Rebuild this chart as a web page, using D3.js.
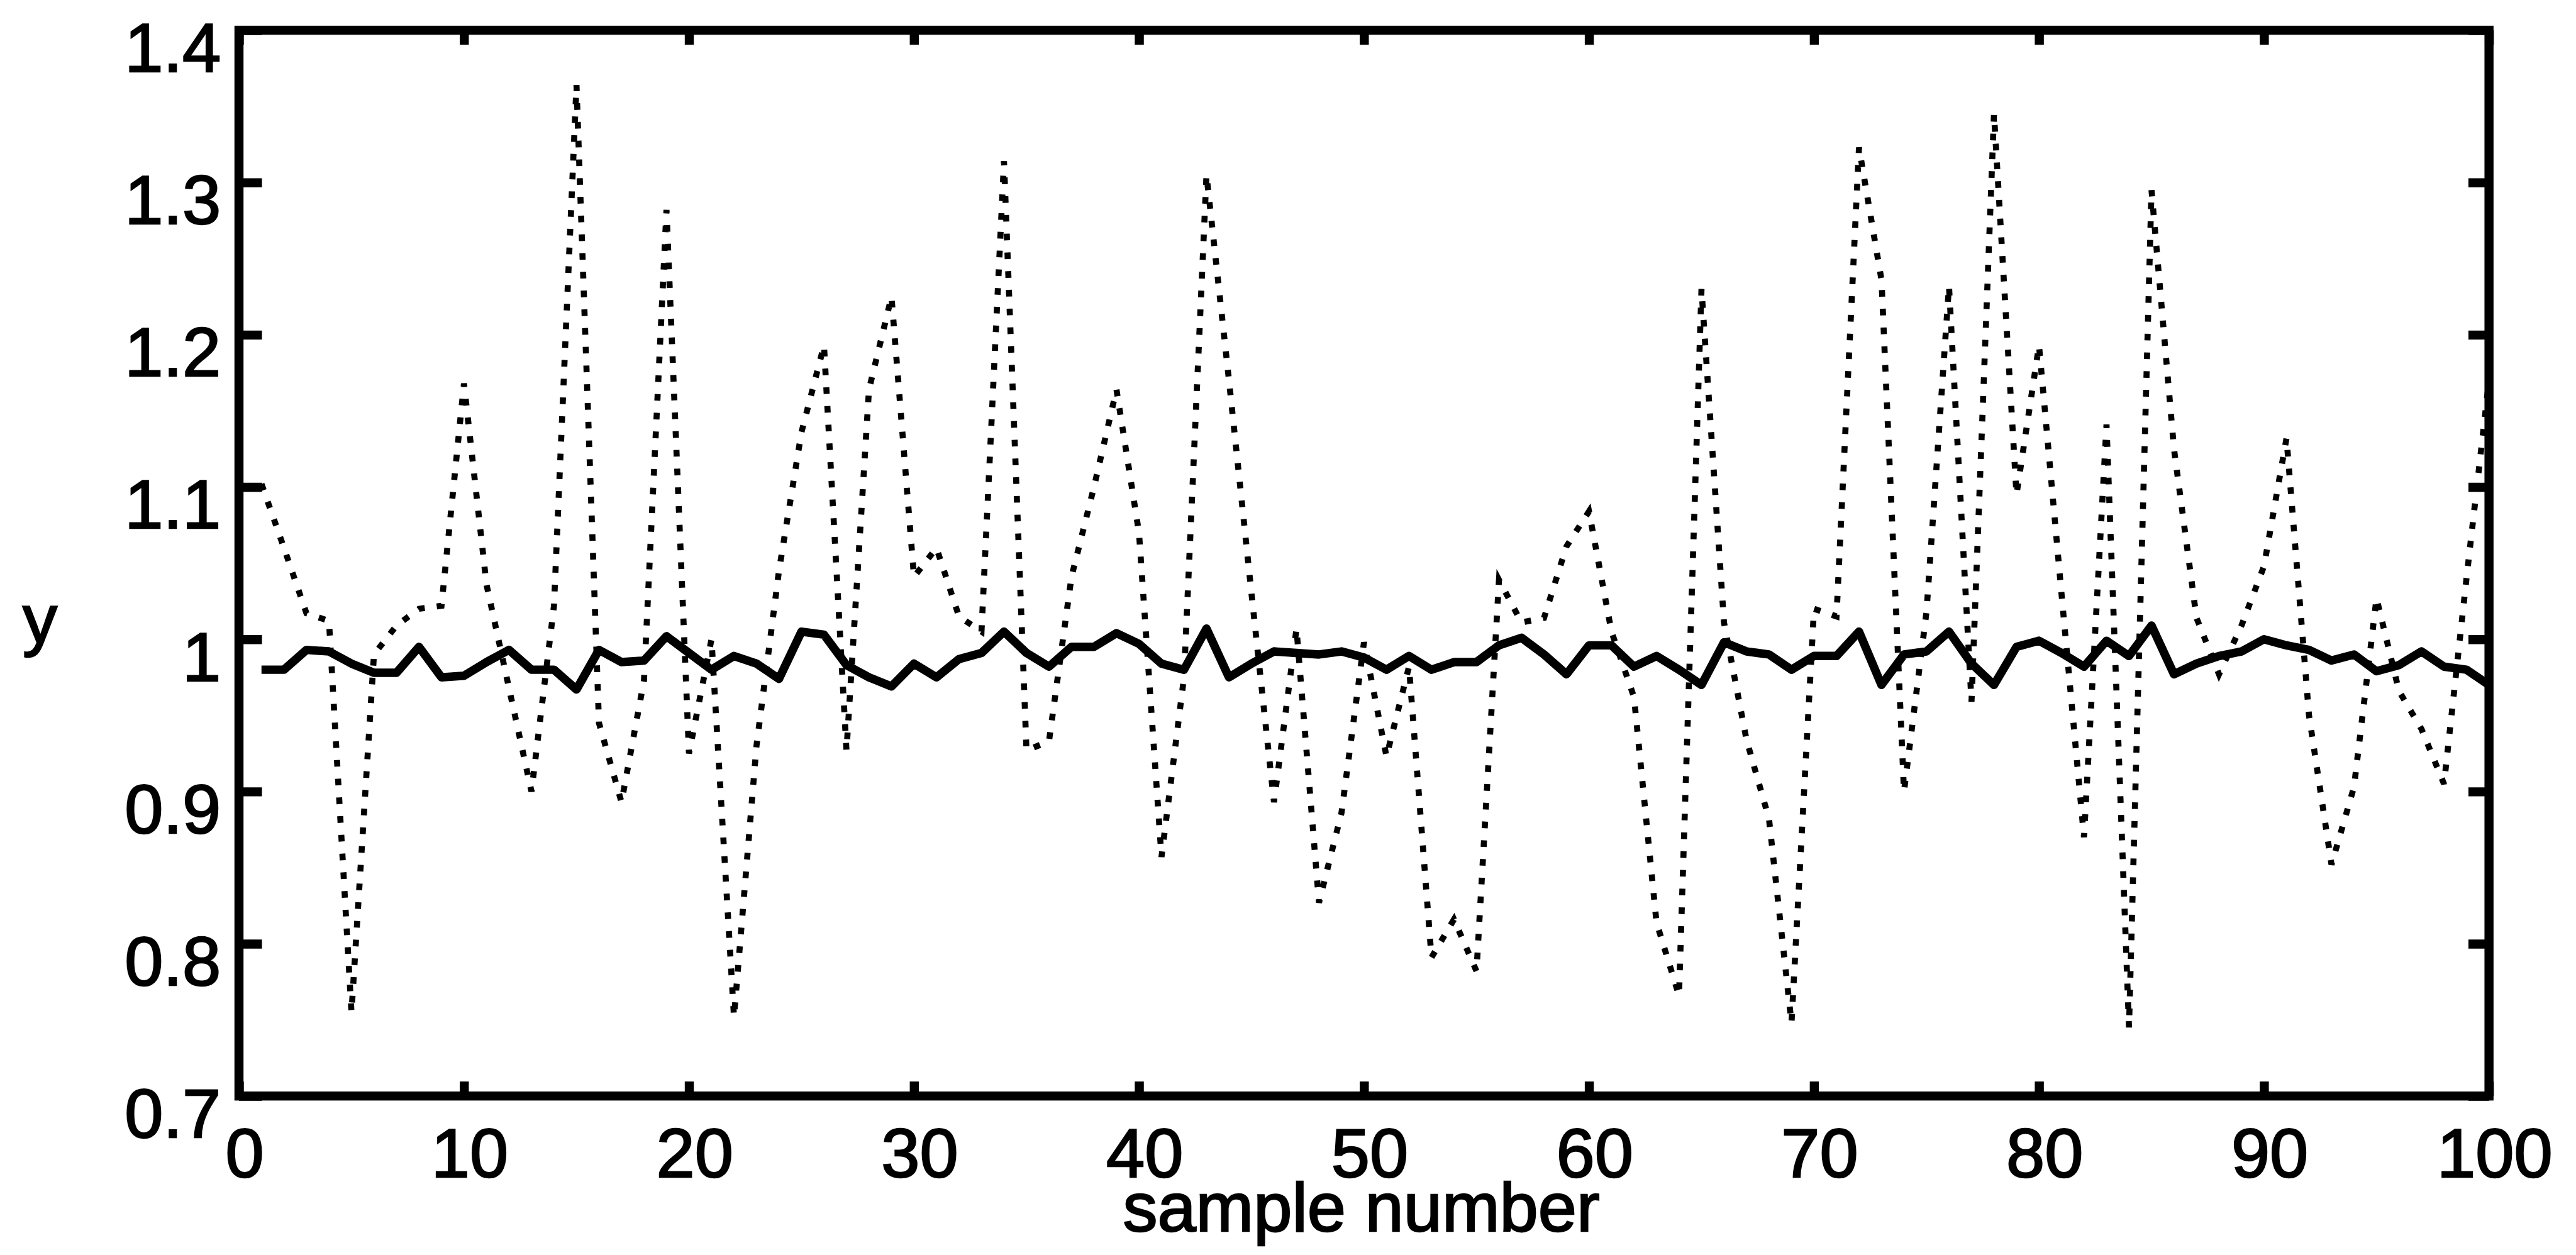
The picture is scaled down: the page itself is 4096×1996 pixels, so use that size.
<!DOCTYPE html>
<html>
<head>
<meta charset="utf-8">
<script src="https://cdn.jsdelivr.net/npm/d3@7"></script>
<style>
body{margin:0;background:#fff}
text{font-family:"Liberation Sans",Arial,Helvetica,sans-serif;fill:#000;stroke:#000;stroke-width:2.5px}
</style>
</head>
<body>
<svg id="chart" width="4096" height="1996"></svg>
<script>
var W = 4096, H = 1996, S = 0.962

// tick values
var xTicks = [0,10,20,30,40,50,60,70,80,90,100]
var yTicks = [0.7,0.8,0.9,1,1.1,1.2,1.3,1.4]

// samples 1..100
var samples = d3.range(1,101)

// noisy measurement (dotted)
var noisy = [1.102,1.06,1.017,1.012,0.755,0.99,1.009,1.02,1.022,1.168,
	1.036,0.968,0.900,1.022,1.364,0.945,0.893,0.973,1.282,0.925,
	1.000,0.752,0.93,1.045,1.136,1.193,0.927,1.164,1.225,1.041,
	1.06,1.015,1.005,1.314,0.927,0.933,1.041,1.10,1.164,1.07,
	0.857,0.975,1.305,1.17,1.03,0.893,1.007,0.827,0.886,0.998,
	0.923,0.982,0.791,0.816,0.782,1.039,1.011,1.014,1.061,1.084,
	1.005,0.962,0.814,0.766,1.23,1.011,0.934,0.882,0.748,1.02,
	1.015,1.323,1.236,0.90,1.018,1.232,0.959,1.345,1.095,1.193,
	1.03,0.87,1.141,0.745,1.295,1.125,1.014,0.977,1.009,1.048,
	1.132,0.95,0.852,0.903,1.027,0.966,0.941,0.905,1.04,1.17]

// filtered estimate (solid)
var filtered = [0.980,0.980,0.993,0.992,0.984,0.978,0.978,0.995,0.975,0.976,
	0.985,0.993,0.980,0.980,0.967,0.993,0.985,0.986,1.002,0.991,
	0.980,0.989,0.984,0.974,1.005,1.003,0.983,0.975,0.969,0.984,
	0.975,0.987,0.991,1.005,0.991,0.982,0.995,0.995,1.004,0.997,
	0.984,0.980,1.007,0.975,0.984,0.992,0.991,0.990,0.992,0.988,
	0.980,0.989,0.980,0.985,0.985,0.996,1.001,0.990,0.977,0.996,
	0.996,0.982,0.989,0.980,0.970,0.998,0.992,0.990,0.980,0.989,
	0.989,1.005,0.970,0.990,0.992,1.005,0.984,0.970,0.995,0.999,
	0.991,0.982,0.999,0.989,1.009,0.977,0.984,0.989,0.992,1.000,
	0.996,0.993,0.986,0.990,0.979,0.983,0.992,0.982,0.980,0.970]

var m = {left:395*S, right:4114*S, top:50*S, bottom:1812*S}
var fs = 110

var svg = d3.select("#chart")
svg.append("rect").attr("width",W).attr("height",H).attr("fill","#fff")

var x = d3.scaleLinear().domain([0,100]).range([m.left,m.right])
var y = d3.scaleLinear().domain([0.7,1.4]).range([m.bottom,m.top])

svg.append("clipPath").attr("id","clip").append("rect")
	.attr("x",m.left).attr("y",m.top).attr("width",m.right-m.left).attr("height",m.bottom-m.top)

var line = d3.line()
	.x(function(d){return x(d[0])})
	.y(function(d){return y(d[1])})

svg.append("path")
	.datum(samples.map(function(s,i){return [s,noisy[i]]}))
	.attr("d",line).attr("clip-path","url(#clip)")
	.attr("fill","none").attr("stroke","#000").attr("stroke-width",10*S)
	.attr("stroke-dasharray",(11*S)+","+(20*S))

svg.append("path")
	.datum(samples.map(function(s,i){return [s,filtered[i]]}))
	.attr("d",line).attr("clip-path","url(#clip)")
	.attr("fill","none").attr("stroke","#000").attr("stroke-width",14*S)
	.attr("stroke-linejoin","round")

function styleAxis(g){
	g.select(".domain").remove()
	g.selectAll(".tick line").attr("stroke","#000").attr("stroke-width",15*S)
	g.selectAll(".tick text").attr("font-size",fs).attr("font-family",null).attr("fill",null)
}

// bottom
svg.append("g").attr("transform","translate(0,"+m.bottom+")")
	.call(d3.axisBottom(x).tickValues(xTicks).tickSize(-24*S).tickFormat(String))
	.call(styleAxis)
	.call(function(g){g.selectAll(".tick text").attr("y",134*S).attr("dy",0).attr("dx",9*S)})
// top
svg.append("g").attr("transform","translate(0,"+m.top+")")
	.call(d3.axisTop(x).tickValues(xTicks).tickSize(-24*S).tickFormat(""))
	.call(styleAxis)
// left
svg.append("g").attr("transform","translate("+m.left+",0)")
	.call(d3.axisLeft(y).tickValues(yTicks).tickSize(-38*S).tickFormat(String))
	.call(styleAxis)
	.call(function(g){g.selectAll(".tick text").attr("x",-30*S).attr("dy",68*S)})
// right
svg.append("g").attr("transform","translate("+m.right+",0)")
	.call(d3.axisRight(y).tickValues(yTicks).tickSize(-34*S).tickFormat(""))
	.call(styleAxis)

// frame
svg.append("rect").attr("x",m.left).attr("y",m.top)
	.attr("width",m.right-m.left).attr("height",m.bottom-m.top)
	.attr("fill","none").attr("stroke","#000").attr("stroke-width",15*S)

svg.append("text").attr("x",2250*S).attr("y",2035*S).attr("text-anchor","middle")
	.attr("font-size",fs).text("sample number")
svg.append("text").attr("x",66*S).attr("y",1062*S).attr("text-anchor","middle")
	.attr("font-size",fs).text("y")
</script>
</body>
</html>
